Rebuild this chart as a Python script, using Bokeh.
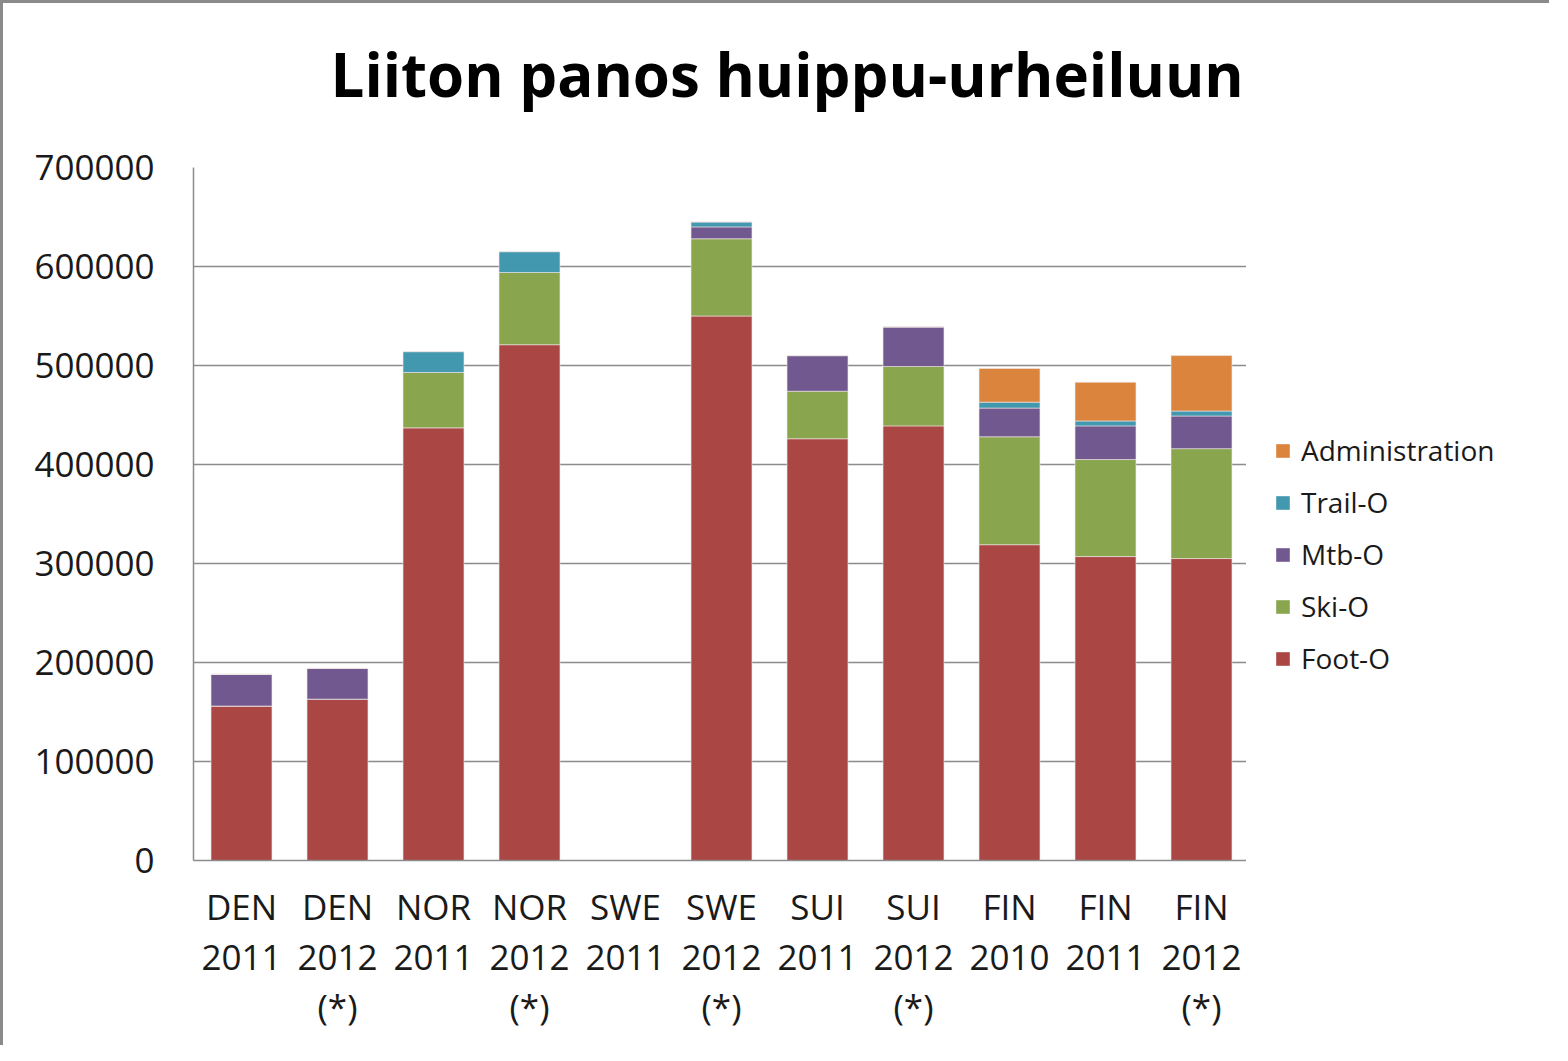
from bokeh.plotting import figure
from bokeh.layouts import row
from bokeh.models import ColumnDataSource, Legend, LegendItem, Range1d, FactorRange, SingleIntervalTicker, NumeralTickFormatter, Title
from bokeh.embed import file_html
from bokeh.resources import INLINE

categories = ["DEN\n2011", "DEN\n2012\n(*)", "NOR\n2011", "NOR\n2012\n(*)", "SWE\n2011",
              "SWE\n2012\n(*)", "SUI\n2011", "SUI\n2012\n(*)", "FIN\n2010", "FIN\n2011", "FIN\n2012\n(*)"]
foot_o = [156000, 163000, 437000, 521000, 0, 550000, 426000, 439000, 319000, 307000, 305000]
ski_o = [0, 0, 56000, 73000, 0, 78000, 48000, 60000, 109000, 98000, 111000]
mtb_o = [32000, 31000, 0, 0, 0, 12000, 36000, 40000, 29000, 34000, 33000]
trail_o = [0, 0, 21000, 21000, 0, 5000, 0, 0, 6000, 5000, 5000]
administration = [0, 0, 0, 0, 0, 0, 0, 0, 34000, 39000, 56000]

series = ["Foot-O", "Ski-O", "Mtb-O", "Trail-O", "Administration"]
colors = ["#AA4643", "#89A54E", "#71588F", "#4198AF", "#DB843D"]

source = ColumnDataSource(data={
    "cat": categories,
    "Foot-O": foot_o,
    "Ski-O": ski_o,
    "Mtb-O": mtb_o,
    "Trail-O": trail_o,
    "Administration": administration,
})

H = 1045
BORDER = "3px solid #8a8a8a"
p = figure(x_range=FactorRange(*categories), y_range=Range1d(0, 700000),
           width=1246, height=H, output_backend="svg", toolbar_location=None,
           min_border_left=190, min_border_top=164, min_border_right=0, min_border_bottom=188)
p.styles = {"border-top": BORDER, "border-left": BORDER}

renderers = p.vbar_stack(series, x="cat", width=0.635, source=source, color=colors,
                         line_color="#f0e6e6", line_width=0.6)

p.title.text = "Liiton panos huippu-urheiluun"
p.title.text_font = "Open Sans"
p.title.text_font_style = "bold"
p.title.text_font_size = "60px"
p.title.align = "left"
p.title.text_color = "#000000"
p.title.offset = 137
p.title.standoff = 0
# spacer between the title and the plot frame
p.add_layout(Title(text=" ", text_font_size="10px", standoff=40), "above")

p.outline_line_color = None
p.xgrid.grid_line_color = None
p.ygrid.grid_line_color = "#8c8c8c"
p.ygrid.grid_line_width = 1.5

p.yaxis.ticker = SingleIntervalTicker(interval=100000)
p.yaxis.formatter = NumeralTickFormatter(format="0")
for ax in (p.xaxis[0], p.yaxis[0]):
    ax.axis_line_color = "#8c8c8c"
    ax.axis_line_width = 1.5
    ax.major_tick_line_color = None
    ax.minor_tick_line_color = None
    ax.major_label_text_font = "Open Sans"
    ax.major_label_text_font_size = "35px"
    ax.major_label_text_color = "#1a1a1a"
p.yaxis.major_label_standoff = 33
p.xaxis.major_label_standoff = 16
p.xaxis.major_label_text_line_height = 1.07

# legend panel to the right of the plot
lf = figure(width=303, height=H, output_backend="svg", toolbar_location=None,
            x_range=Range1d(0, 1), y_range=Range1d(0, 1),
            x_axis_location=None, y_axis_location=None, min_border=0)
lf.styles = {"border-top": BORDER}
lf.outline_line_color = None
lf.grid.grid_line_color = None
key_renderers = {s: lf.vbar(x=[0], top=[0], bottom=[0], width=0.5, fill_color=c, line_color=None)
                 for s, c in zip(series, colors)}

items = [LegendItem(label=s, renderers=[key_renderers[s]]) for s in reversed(series)]
legend = Legend(items=items, location=(28, 183))
legend.label_text_font = "Open Sans"
legend.label_text_font_size = "28px"
legend.label_text_color = "#1a1a1a"
legend.glyph_width = 17
legend.glyph_height = 17
legend.label_standoff = 10
legend.label_height = 30
legend.spacing = 14
legend.border_line_color = None
legend.background_fill_alpha = 0
legend.padding = 0
legend.margin = 0
lf.add_layout(legend)

layout = row(p, lf, spacing=0)
open("out.html", "w").write(file_html(layout, INLINE))
